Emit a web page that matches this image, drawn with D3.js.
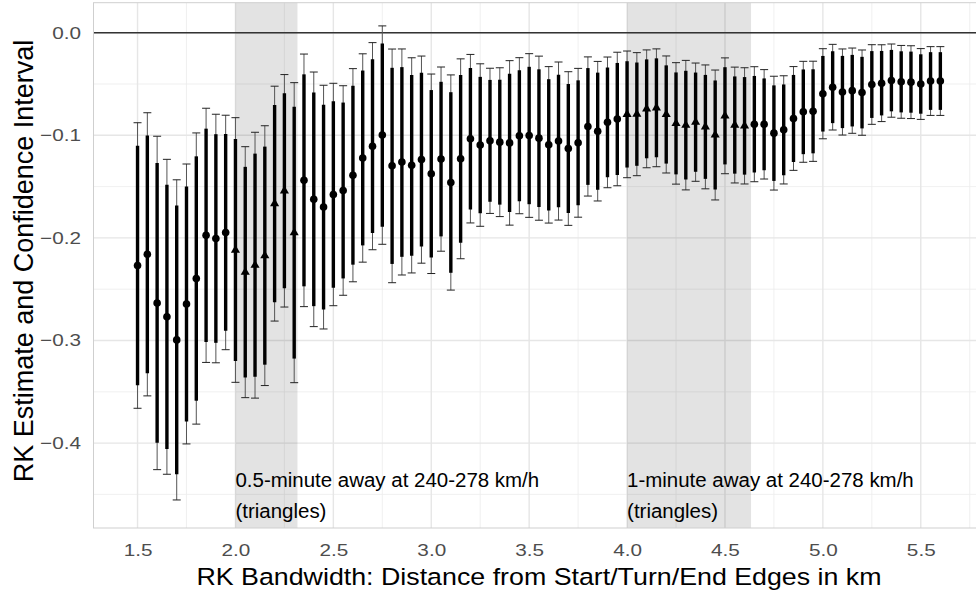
<!DOCTYPE html>
<html>
<head>
<meta charset="utf-8">
<script src="https://cdn.jsdelivr.net/npm/d3@7"></script>
<style>
  body { margin: 0; background: #fff; }
  svg { display: block; font-family: "Liberation Sans", Arial, Helvetica, sans-serif; }
</style>
</head>
<body>
<div id="chart"></div>
<script>
// RK bandwidth in km (x) with point estimate and its standard error
const bandwidth = [
  1.5, 1.55, 1.6, 1.65, 1.7, 1.75, 1.8, 1.85, 1.9, 1.95,
  2.0, 2.05, 2.1, 2.15, 2.2, 2.25, 2.3, 2.35, 2.4, 2.45,
  2.5, 2.55, 2.6, 2.65, 2.7, 2.75, 2.8, 2.85, 2.9, 2.95,
  3.0, 3.05, 3.1, 3.15, 3.2, 3.25, 3.3, 3.35, 3.4, 3.45,
  3.5, 3.55, 3.6, 3.65, 3.7, 3.75, 3.8, 3.85, 3.9, 3.95,
  4.0, 4.05, 4.1, 4.15, 4.2, 4.25, 4.3, 4.35, 4.4, 4.45,
  4.5, 4.55, 4.6, 4.65, 4.7, 4.75, 4.8, 4.85, 4.9, 4.95,
  5.0, 5.05, 5.1, 5.15, 5.2, 5.25, 5.3, 5.35, 5.4, 5.45,
  5.5, 5.55, 5.6
];

const estimate = [
  -0.2269, -0.2160, -0.2634, -0.2769, -0.2994, -0.2644, -0.2396, -0.1975, -0.2006, -0.1947,
  -0.2118, -0.2334, -0.2266, -0.2173, -0.1666, -0.1541, -0.1949, -0.1439, -0.1624, -0.1700,
  -0.1577, -0.1538, -0.1389, -0.1221, -0.1106, -0.0998, -0.1298, -0.1260, -0.1293, -0.1237,
  -0.1375, -0.1232, -0.1460, -0.1229, -0.1033, -0.1095, -0.1054, -0.1067, -0.1074, -0.1004,
  -0.1002, -0.1028, -0.1093, -0.1056, -0.1129, -0.1073, -0.0914, -0.0960, -0.0874, -0.0841,
  -0.0796, -0.0794, -0.0742, -0.0732, -0.0797, -0.0884, -0.0901, -0.0872, -0.0918, -0.0997,
  -0.0810, -0.0900, -0.0908, -0.0892, -0.0893, -0.0979, -0.0947, -0.0836, -0.0771, -0.0766,
  -0.0595, -0.0531, -0.0578, -0.0565, -0.0584, -0.0505, -0.0492, -0.0467, -0.0479, -0.0482,
  -0.0500, -0.0471, -0.0471
];

const stdError = [
  0.0710, 0.0704, 0.0829, 0.0783, 0.0796, 0.0696, 0.0724, 0.0632, 0.0618, 0.0583,
  0.0658, 0.0624, 0.0661, 0.0646, 0.0584, 0.0578, 0.0746, 0.0628, 0.0633, 0.0606,
  0.0553, 0.0521, 0.0530, 0.0518, 0.0515, 0.0543, 0.0581, 0.0562, 0.0535, 0.0515,
  0.0496, 0.0458, 0.0535, 0.0497, 0.0419, 0.0404, 0.0361, 0.0370, 0.0409, 0.0388,
  0.0407, 0.0408, 0.0389, 0.0393, 0.0382, 0.0370, 0.0346, 0.0347, 0.0325, 0.0332,
  0.0315, 0.0306, 0.0293, 0.0293, 0.0291, 0.0302, 0.0322, 0.0294, 0.0308, 0.0323,
  0.0288, 0.0288, 0.0289, 0.0286, 0.0272, 0.0283, 0.0269, 0.0258, 0.0251, 0.0249,
  0.0224, 0.0213, 0.0214, 0.0212, 0.0212, 0.0198, 0.0191, 0.0182, 0.0181, 0.0181,
  0.0176, 0.0171, 0.0171
];

// shaded bands: 0.5 and 1 minute away at 240-278 km/h
const bandStart = [2.0, 4.0];
const bandEnd = [2.3167, 4.6333];
const bandLabels = [
  ['0.5-minute away at 240-278 km/h', '(triangles)'],
  ['1-minute away at 240-278 km/h', '(triangles)']
];
const labelY = -0.4428;

const xTicks = [1.5, 2.0, 2.5, 3.0, 3.5, 4.0, 4.5, 5.0, 5.5];
const xMinor = [1.75, 2.25, 2.75, 3.25, 3.75, 4.25, 4.75, 5.25, 5.75];
const yTicks = [0, -0.1, -0.2, -0.3, -0.4];
const yMinor = [-0.05, -0.15, -0.25, -0.35, -0.45];

const xTitle = 'RK Bandwidth: Distance from Start/Turn/End Edges in km';
const yTitle = 'RK Estimate and Confidence Interval';

const z90 = 1.645;
const z95 = 1.96;

const width = 976;
const height = 598;
const panel = { left: 93, top: 2.7, bottom: 528 };

const rows = bandwidth.map((x, i) => ({
  x,
  est: estimate[i],
  se: stdError[i],
  triangle: bandStart.some((s, j) => x >= s - 1e-9 && x <= bandEnd[j] + 1e-9)
}));

const xScale = d3.scaleLinear().domain([1.2725, 5.8275]).range([panel.left, 984.9]);
const yScale = d3.scaleLinear().domain([-0.48275, 0.02924]).range([panel.bottom, panel.top]);
const panelRight = xScale(5.8275);

const svg = d3.select('#chart').append('svg')
  .attr('width', width)
  .attr('height', height)
  .attr('viewBox', `0 0 ${width} ${height}`);

svg.append('rect').attr('width', width).attr('height', height).attr('fill', '#fff');

// gridlines
const grid = svg.append('g').attr('class', 'grid');
grid.selectAll('.xminor').data(xMinor).join('line')
  .attr('x1', (d) => xScale(d)).attr('x2', (d) => xScale(d))
  .attr('y1', panel.top).attr('y2', panel.bottom)
  .attr('stroke', '#ececec').attr('stroke-width', 0.8);
grid.selectAll('.yminor').data(yMinor).join('line')
  .attr('x1', panel.left).attr('x2', panelRight)
  .attr('y1', (d) => yScale(d)).attr('y2', (d) => yScale(d))
  .attr('stroke', '#ececec').attr('stroke-width', 0.8);
grid.append('g').selectAll('line').data(xTicks).join('line')
  .attr('x1', (d) => xScale(d)).attr('x2', (d) => xScale(d))
  .attr('y1', panel.top).attr('y2', panel.bottom)
  .attr('stroke', '#e6e6e6').attr('stroke-width', 1.4);
grid.append('g').selectAll('line').data(yTicks).join('line')
  .attr('x1', panel.left).attr('x2', panelRight)
  .attr('y1', (d) => yScale(d)).attr('y2', (d) => yScale(d))
  .attr('stroke', '#e6e6e6').attr('stroke-width', 1.4);

// shaded bands
svg.append('g').selectAll('rect').data(bandStart).join('rect')
  .attr('x', (d) => xScale(d))
  .attr('width', (d, i) => xScale(bandEnd[i]) - xScale(d))
  .attr('y', panel.top)
  .attr('height', panel.bottom - panel.top)
  .attr('fill', '#000')
  .attr('fill-opacity', 0.11);

// zero line
svg.append('line')
  .attr('x1', panel.left).attr('x2', panelRight)
  .attr('y1', yScale(0)).attr('y2', yScale(0))
  .attr('stroke', '#333').attr('stroke-width', 1.5);

// 95% error bars
const capW = 4;
const bars = svg.append('g').attr('class', 'ci95');
bars.selectAll('.stem').data(rows).join('line')
  .attr('x1', (d) => xScale(d.x)).attr('x2', (d) => xScale(d.x))
  .attr('y1', (d) => yScale(d.est + z95 * d.se))
  .attr('y2', (d) => yScale(d.est - z95 * d.se))
  .attr('stroke', '#555').attr('stroke-width', 1);
bars.selectAll('.capTop').data(rows).join('line')
  .attr('x1', (d) => xScale(d.x) - capW).attr('x2', (d) => xScale(d.x) + capW)
  .attr('y1', (d) => yScale(d.est + z95 * d.se))
  .attr('y2', (d) => yScale(d.est + z95 * d.se))
  .attr('stroke', '#222').attr('stroke-width', 1);
bars.selectAll('.capBottom').data(rows).join('line')
  .attr('x1', (d) => xScale(d.x) - capW).attr('x2', (d) => xScale(d.x) + capW)
  .attr('y1', (d) => yScale(d.est - z95 * d.se))
  .attr('y2', (d) => yScale(d.est - z95 * d.se))
  .attr('stroke', '#222').attr('stroke-width', 1);

// 90% ranges
svg.append('g').selectAll('line').data(rows).join('line')
  .attr('x1', (d) => xScale(d.x)).attr('x2', (d) => xScale(d.x))
  .attr('y1', (d) => yScale(d.est + z90 * d.se))
  .attr('y2', (d) => yScale(d.est - z90 * d.se))
  .attr('stroke', '#000').attr('stroke-width', 3.4);

// estimates
const pts = svg.append('g').attr('class', 'points');
pts.selectAll('circle').data(rows.filter((d) => !d.triangle)).join('circle')
  .attr('cx', (d) => xScale(d.x))
  .attr('cy', (d) => yScale(d.est))
  .attr('r', 3.8)
  .attr('fill', '#000');
pts.selectAll('path').data(rows.filter((d) => d.triangle)).join('path')
  .attr('d', d3.symbol(d3.symbolTriangle, 36))
  .attr('transform', (d) => `translate(${xScale(d.x)},${yScale(d.est)})`)
  .attr('fill', '#000');

// band annotations
const notes = svg.append('g').attr('class', 'notes');
bandStart.forEach((s, i) => {
  bandLabels[i].forEach((line, k) => {
    notes.append('text')
      .attr('transform', `translate(${xScale(s)},${yScale(labelY) + k * 31}) scale(1.05,1)`)
      .attr('font-size', 19.5)
      .attr('fill', '#000')
      .text(line);
  });
});

// panel border
svg.append('rect')
  .attr('x', panel.left + 0.5).attr('y', panel.top)
  .attr('width', panelRight - panel.left).attr('height', panel.bottom - panel.top)
  .attr('fill', 'none').attr('stroke', '#cfcfcf').attr('stroke-width', 1);

// axes
const xAxis = svg.append('g')
  .attr('transform', `translate(0,${panel.bottom})`)
  .call(d3.axisBottom(xScale).tickValues(xTicks).tickFormat(d3.format('.1f')).tickSize(0).tickPadding(16));
const yAxis = svg.append('g')
  .attr('transform', `translate(${panel.left},0)`)
  .call(d3.axisLeft(yScale).tickValues(yTicks).tickFormat(d3.format('.1f')).tickSize(0).tickPadding(12));

[xAxis, yAxis].forEach((ax) => {
  ax.select('.domain').remove();
  ax.selectAll('text')
    .attr('font-family', '"Liberation Sans", Arial, sans-serif')
    .attr('font-size', 17)
    .attr('fill', '#4d4d4d')
    .attr('transform', 'scale(1.22,1)');
});
yAxis.selectAll('text').attr('x', -12 / 1.22);

svg.append('text')
  .attr('transform', `translate(539,585) scale(1.15,1)`)
  .attr('text-anchor', 'middle')
  .attr('font-size', 23.3)
  .attr('fill', '#000')
  .text(xTitle);

svg.append('text')
  .attr('transform', `translate(33,261) rotate(-90)`)
  .attr('text-anchor', 'middle')
  .attr('font-size', 27)
  .attr('fill', '#000')
  .text(yTitle);
</script>
</body>
</html>
